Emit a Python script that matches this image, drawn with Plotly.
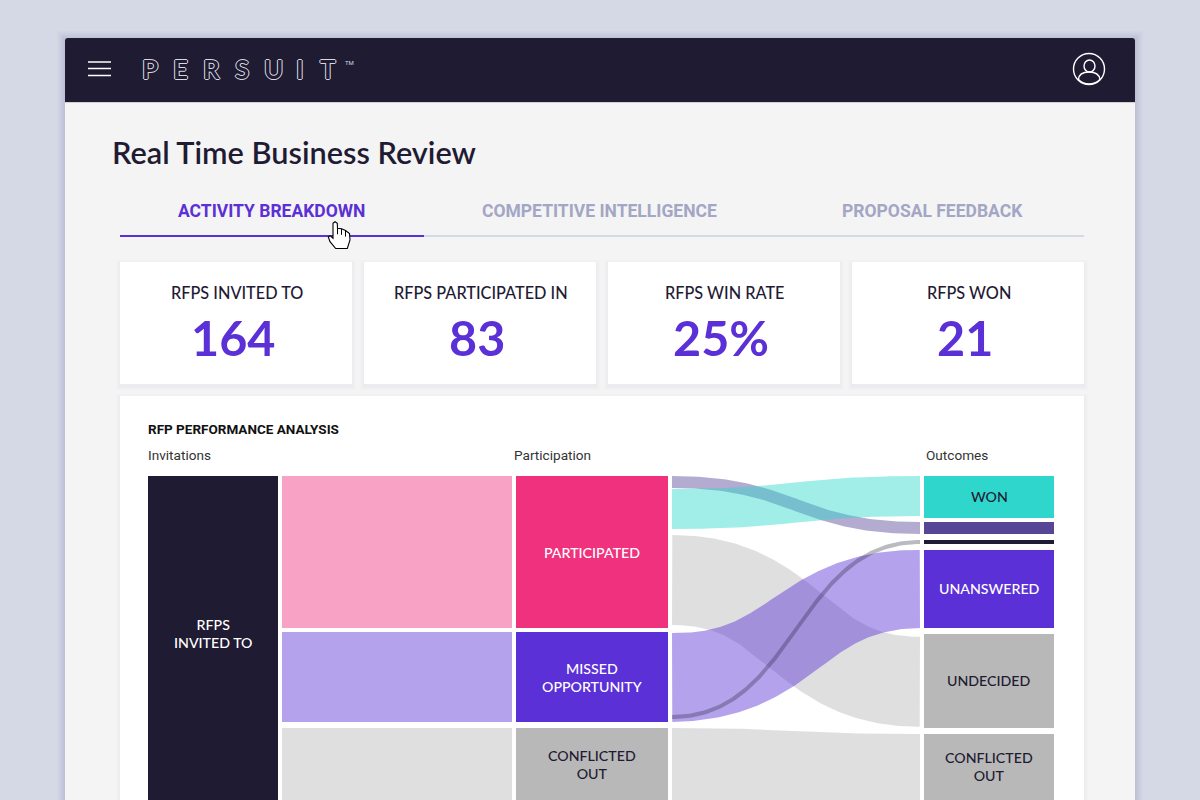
import numpy as np
import plotly.graph_objects as go

# Colours
BG = "#d5d9e6"
PANEL = "#f4f4f4"
DARK = "#1f1b33"
PURPLE = "#5b30d6"
MUTED = "#a3a6c4"

# KPI cards
kpi_titles = ["RFPS INVITED TO", "RFPS PARTICIPATED IN", "RFPS WIN RATE", "RFPS WON"]
kpi_values = ["164", "83", "25%", "21"]

tab_labels = ["ACTIVITY BREAKDOWN", "COMPETITIVE INTELLIGENCE", "PROPOSAL FEEDBACK"]
logo_letters = ["P", "E", "R", "S", "U", "I", "T"]

# Sankey data (RFPs)
invited_label = "RFPS<br>INVITED TO"
invited_value = 164
participation_labels = ["PARTICIPATED", "MISSED<br>OPPORTUNITY", "CONFLICTED<br>OUT"]
participation_values = [76, 45, 43]
outcome_labels = ["WON", "", "", "UNANSWERED", "UNDECIDED", "CONFLICTED<br>OUT"]
outcome_values = [21, 6, 2, 39, 47, 43]

# Links from participation (index) to outcome (index)
link_source = [0, 0, 0, 1, 1, 2]
link_target = [1, 0, 4, 3, 2, 5]
link_out = [6, 20, 45, 44.5, 2, 43]
link_in = [6, 20, 45, 39, 2, 43]
link_source_offset = [0, 6.5, 29.5, 0.5, 41.5, 0]
link_target_offset = [0, 0, 1.4, 0, 0, 0]
link_alpha = [0.45, 0.45, 0.45, 0.45, 0.3, 0.45]

# Layout of the sankey
PX = 2  # pixels per RFP
TOP = 476
COL_LEFT = (148, 278)
COL_MID = (516, 668)
COL_RIGHT = (924, 1054)
GAP = 4
mid_gaps = [4, 6]
right_gaps = [4, 6, 6, 6, 6]

participation_colors = ["#f0327e", PURPLE, "#b8b8b8"]
outcome_colors = ["#2fd6cc", "#574596", DARK, PURPLE, "#b8b8b8", "#b8b8b8"]
participation_text = ["white", "white", DARK]
outcome_text = [DARK, "white", "white", "white", DARK, DARK]


def stack(values, gaps):
    tops = [TOP]
    for v, g in zip(values[:-1], gaps):
        tops.append(tops[-1] + v * PX + g)
    return tops


def rgba(color, a):
    c = color.lstrip("#")
    r, g, b = int(c[:2], 16), int(c[2:4], 16), int(c[4:], 16)
    return f"rgba({r},{g},{b},{a})"


# Ribbon: bezier centre line with a constant width along the normal, like a thick stroke
def ribbon(x0, x1, y0, h0, y1, h1):
    t = np.linspace(0, 1, 120)
    xm = (x0 + x1) / 2
    c0, c1 = y0 + h0 / 2, y1 + h1 / 2
    x = (1-t)**3*x0 + 3*(1-t)**2*t*xm + 3*(1-t)*t**2*xm + t**3*x1
    y = (1-t)**3*c0 + 3*(1-t)**2*t*c0 + 3*(1-t)*t**2*c1 + t**3*c1
    dx = np.gradient(x)
    dy = np.gradient(y)
    n = np.hypot(dx, dy)
    w = (h0 + (h1 - h0) * t) / 2
    xt, yt = x + dy/n*w, y - dx/n*w
    xb, yb = x - dy/n*w, y + dx/n*w
    # keep the ends square on the columns
    xs = np.clip(np.concatenate([xt, xb[::-1]]), x0, x1)
    ys = np.concatenate([yt, yb[::-1]])
    return xs, ys


mid_tops = stack(participation_values, mid_gaps)
right_tops = stack(outcome_values, right_gaps)

fig = go.Figure()

# Invited -> participation flat bands
fig.add_trace(go.Bar(
    x=[(COL_LEFT[1] + COL_MID[0]) / 2] * 3,
    width=COL_MID[0] - COL_LEFT[1] - 2 * GAP,
    base=mid_tops,
    y=[v * PX for v in participation_values],
    marker=dict(color=[rgba(c, 0.45) for c in participation_colors], line_width=0),
    hoverinfo="skip"))

# Nodes
fig.add_trace(go.Bar(
    x=[sum(COL_LEFT) / 2],
    width=COL_LEFT[1] - COL_LEFT[0],
    base=[TOP],
    y=[invited_value * PX + sum(mid_gaps)],
    marker=dict(color=DARK, line_width=0),
    hoverinfo="skip"))
fig.add_trace(go.Bar(
    x=[sum(COL_MID) / 2] * 3,
    width=COL_MID[1] - COL_MID[0],
    base=mid_tops,
    y=[v * PX for v in participation_values],
    marker=dict(color=participation_colors, line_width=0),
    hoverinfo="skip"))
fig.add_trace(go.Bar(
    x=[sum(COL_RIGHT) / 2] * 6,
    width=COL_RIGHT[1] - COL_RIGHT[0],
    base=right_tops,
    y=[v * PX for v in outcome_values],
    marker=dict(color=outcome_colors, line_width=0),
    hoverinfo="skip"))

# Participation -> outcome ribbons
for s, d, vo, vi, so, to, a in zip(link_source, link_target, link_out, link_in,
                                   link_source_offset, link_target_offset, link_alpha):
    xs, ys = ribbon(COL_MID[1] + GAP, COL_RIGHT[0] - GAP,
                    mid_tops[s] + so * PX, vo * PX,
                    right_tops[d] + to * PX, vi * PX)
    fig.add_trace(go.Scatter(x=xs, y=ys, mode="lines", fill="toself",
                             line_width=0, fillcolor=rgba(outcome_colors[d], a),
                             hoverinfo="skip"))

shapes = []
annotations = []


def rect(x0, y0, x1, y1, color):
    shapes.append(dict(type="rect", x0=x0, y0=y0, x1=x1, y1=y1, layer="below",
                       fillcolor=color, line_width=0))


def shadow(x0, y0, x1, y1, steps, dy, a):
    for k in range(steps, 0, -1):
        rect(x0 - k, y0 - k + dy, x1 + k, y1 + k + dy, f"rgba(40,40,80,{a})")


def text(x, y, s, size, color, family="Lato", anchor="center", **font):
    # annotations sit 2px in from their anchor
    if anchor == "left":
        x -= 2
    annotations.append(dict(x=x, y=y, text=s, showarrow=False, xanchor=anchor,
                            yanchor="middle", align="center",
                            font=dict(size=size, color=color, family=family, **font)))


# Window
shadow(65, 38, 1135, 810, 8, 1, 0.012)
shapes.append(dict(type="path", layer="below", line_width=0, fillcolor=DARK,
                   path="M65,102 L65,41 Q65,38 68,38 L1132,38 Q1135,38 1135,41 L1135,102 Z"))
rect(65, 102, 1135, 800, PANEL)
rect(65, 102, 1135, 103, "#cfcfd4")

# Menu icon
for y in [62, 68.5, 75.5]:
    shapes.append(dict(type="line", x0=88, x1=111, y0=y, y1=y, line=dict(color="white", width=1.5)))

# Logo: outlined letters
logo_x = [150, 180.5, 211, 241.5, 273, 300, 327.5]
for ch, x in zip(logo_letters, logo_x):
    text(x, 68.5, ch, 26, DARK, family="Lato", weight=700,
         shadow="1px 0 0 #d8d8e0,-1px 0 0 #d8d8e0,0 1px 0 #d8d8e0,0 -1px 0 #d8d8e0")
text(349, 62, "TM", 6, "#d8d8e0", family="Roboto")

# User icon
shapes.append(dict(type="circle", x0=1073.5, x1=1104.5, y0=53.5, y1=84.5, line=dict(color="white", width=1.4)))
shapes.append(dict(type="circle", x0=1084, x1=1095, y0=60, y1=72, line=dict(color="white", width=1.4)))
shapes.append(dict(type="path", line=dict(color="white", width=1.4),
                   path="M1078.5,79.5 Q1079,72 1089,72 Q1099,72 1100,79.5 Q1095,84 1089,84 Q1083,84 1078.5,79.5 Z"))

# Title and tabs
text(112, 152.5, "Real Time Business Review", 30.7, DARK, anchor="left", weight=600)
tab_x = [271.5, 599.5, 932]
tab_colors = [PURPLE, MUTED, MUTED]
for x, s, c in zip(tab_x, tab_labels, tab_colors):
    text(x, 210.5, s, 17.5, c, family="Roboto", weight=700)
shapes.append(dict(type="line", x0=120, x1=1084, y0=236, y1=236, line=dict(color=BG, width=2)))
shapes.append(dict(type="line", x0=120, x1=424, y0=236, y1=236, line=dict(color=PURPLE, width=2)))

# KPI cards
card_x = [120, 364, 608, 852]
for x, title, value in zip(card_x, kpi_titles, kpi_values):
    shadow(x, 262, x + 232, 384, 4, 2, 0.006)
    rect(x, 262, x + 232, 384, "white")
    text(x + 116.5, 292, title, 16.3, DARK, weight=500)
    text(x + 113, 337, value, 48.5, PURPLE, weight=700)

# Analysis card
shadow(120, 396, 1084, 810, 4, 2, 0.006)
rect(120, 396, 1084, 800, "white")
text(148, 429, "RFP PERFORMANCE ANALYSIS", 13.5, "#111111", family="Roboto", anchor="left", weight=700)
for x, s in zip([148, 514, 926], ["Invitations", "Participation", "Outcomes"]):
    text(x, 455, s, 13.6, "#333333", family="Roboto", anchor="left")

# Node labels, centred on the part that is visible
text(sum(COL_LEFT) / 2, 633.5, invited_label, 14.2, "white", weight=500)
for top, v, s, c in zip(mid_tops, participation_values, participation_labels, participation_text):
    text(sum(COL_MID) / 2, (top + min(top + v * PX, 800)) / 2, s, 14.2, c, weight=500)
for top, v, s, c in zip(right_tops, outcome_values, outcome_labels, outcome_text):
    if s:
        text(sum(COL_RIGHT) / 2, (top + min(top + v * PX, 800)) / 2 - 1, s, 14.2, c, weight=500)

# Hand cursor
shapes.append(dict(type="path", fillcolor="white", line=dict(color="black", width=1.1),
                   path="M335.7,248.5 L347.3,248.5 L350,240 L349.5,233.5 L345.5,230.5 L341.5,228.8 "
                        "L337.5,228.3 L337.3,223.3 L335,221.7 L333,223.3 L333,238.3 L330,235.7 "
                        "L328.3,237 L330,241.7 Z"))
for x0, y0 in [(337.5, 228.3), (341.5, 228.8), (345.5, 230.5)]:
    shapes.append(dict(type="line", x0=x0, x1=x0, y0=y0, y1=y0 + 6, line=dict(color="black", width=1)))

fig.update_layout(
    width=1200, height=800,
    margin=dict(l=0, r=0, t=0, b=0),
    paper_bgcolor=BG, plot_bgcolor=BG,
    showlegend=False, barmode="overlay",
    xaxis=dict(range=[0, 1200], visible=False, fixedrange=True),
    yaxis=dict(range=[800, 0], visible=False, fixedrange=True),
    shapes=shapes, annotations=annotations,
    font=dict(family="Lato"),
)

fig.write_html("out.html", config=dict(displayModeBar=False),
               post_script="document.body.style.margin='0';document.body.style.overflow='hidden';")
